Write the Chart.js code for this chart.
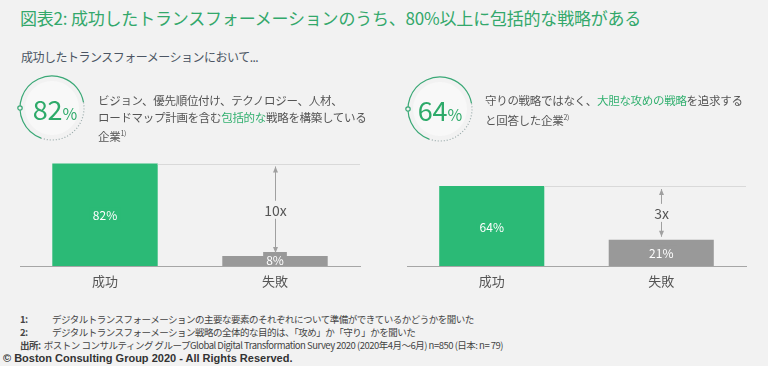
<!DOCTYPE html>
<html>
<head>
<meta charset="utf-8">
<script src="https://cdn.jsdelivr.net/npm/chart.js@4.4.1/dist/chart.umd.min.js"></script>
<style>
    html, body { margin: 0; padding: 0; }
    body {
        width: 768px; height: 366px; overflow: hidden; position: relative;
        background: #f2f2f2;
        font-family: "Noto Sans CJK JP", "Noto Sans", sans-serif;
        color: #555;
    }
    .abs { position: absolute; white-space: nowrap; }
    #title { left: 20px; top: 5px; font-size: 17px; color: #33a86b; letter-spacing: -0.2px; }
    #subtitle { left: 21px; top: 48px; font-size: 12px; color: #4b5563; letter-spacing: -0.5px; }
    .ring { position: absolute; }
    .big { position: absolute; color: #2eaa6a; font-size: 27px; line-height: 1; text-align: center; width: 70px; }
    .big small { font-size: 16px; }
    .desc { font-size: 11.5px; line-height: 16.5px; color: #555; letter-spacing: -0.3px; }
    .desc em { font-style: normal; color: #33b070; }
    .desc sup { font-size: 7px; vertical-align: 5px; }
    .note { font-size: 9.5px; color: #444; letter-spacing: -0.5px; }
    #copy { left: 3px; top: 352px; font-family: "Liberation Sans", sans-serif; font-weight: bold; font-size: 11px; color: #333; }
    canvas.bars { position: absolute; }
</style>
</head>
<body>

<div id="title" class="abs">図表2: 成功したトランスフォーメーションのうち、80%以上に包括的な戦略がある</div>
<div id="subtitle" class="abs">成功したトランスフォーメーションにおいて...</div>

<canvas class="ring" id="ring-left" width="80" height="80" style="left:12px; top:68px;"></canvas>
<div class="big" style="left:20px; top:95px;">82<small>%</small></div>
<div class="abs desc" style="left:98px; top:92px;">ビジョン、優先順位付け、テクノロジー、人材、<br>ロードマップ計画を含む<em>包括的な</em>戦略を構築している<br>企業<sup>1)</sup></div>

<canvas class="ring" id="ring-right" width="80" height="80" style="left:400px; top:69px;"></canvas>
<div class="big" style="left:405px; top:96px;">64<small>%</small></div>
<div class="abs desc" style="left:485px; top:92px;">守りの戦略ではなく、<em>大胆な攻めの戦略</em>を追求する<br>と回答した企業<sup>2)</sup></div>

<canvas class="bars" id="chart-left" width="384" height="170" style="left:0; top:130px;"></canvas>
<canvas class="bars" id="chart-right" width="384" height="170" style="left:384px; top:130px;"></canvas>

<div class="abs note" style="left:20px; top:312px;"><b>1:</b></div>
<div class="abs note" style="left:52px; top:312px;">デジタルトランスフォーメーションの主要な要素のそれぞれについて準備ができているかどうかを聞いた</div>
<div class="abs note" style="left:20px; top:325px;"><b>2:</b></div>
<div class="abs note" style="left:52px; top:325px;">デジタルトランスフォーメーション戦略の全体的な目的は、「攻め」か「守り」かを聞いた</div>
<div class="abs note" style="left:20px; top:338px;"><b>出所:</b>&nbsp; ボストン コンサルティング グループGlobal Digital Transformation Survey 2020 (2020年4月～6月) n=850 (日本: n= 79)</div>
<div id="copy" class="abs">© Boston Consulting Group 2020 - All Rights Reserved.</div>

<script>
// Data.
const categories = ["成功", "失敗"];
const leftValues = [82, 8];
const rightValues = [64, 21];
const ratioLabels = ["10x", "3x"];

const green = "#2bba76";
const gray = "#999999";
const bg = "#f2f2f2";


/**
 * Draws the decorative ring around the big percentage.
 */
function drawRing(id) {
    const ctx = document.getElementById(id).getContext("2d");
    const cx = 40, cy = 40, r = 32;
    const deg = Math.PI / 180;

    ctx.fillStyle = "#f8f8f8";
    ctx.beginPath();
    ctx.arc(cx, cy, 27, 0, 2 * Math.PI);
    ctx.fill();

    ctx.strokeStyle = "#3aa876";
    ctx.lineWidth = 1.2;
    ctx.beginPath();
    ctx.arc(cx, cy, r, 110 * deg, 350 * deg);
    ctx.stroke();

    ctx.strokeStyle = "#9aa";
    ctx.setLineDash([1, 2]);
    ctx.beginPath();
    ctx.arc(cx, cy, r, 350 * deg, 470 * deg);
    ctx.stroke();
    ctx.setLineDash([]);

    ctx.fillStyle = bg;
    ctx.strokeStyle = "#3aa876";
    ctx.beginPath();
    ctx.arc(cx - r, cy, 2.2, 0, 2 * Math.PI);
    ctx.fill();
    ctx.stroke();
}


// Value labels, reference line and the arrow with the ratio label.
const barDecor = {
    id: "barDecor",
    afterDatasetsDraw(chart, args, opts) {
        const ctx = chart.ctx;
        const meta = chart.getDatasetMeta(0);
        const values = chart.data.datasets[0].data;
        const area = chart.chartArea;
        const [good, bad] = meta.data;

        // reference line at the top of the first bar
        ctx.save();
        ctx.strokeStyle = "#d9d9d9";
        ctx.lineWidth = 1;
        ctx.beginPath();
        ctx.moveTo(good.x + good.width / 2, Math.round(good.y) + 0.5);
        ctx.lineTo(area.right, Math.round(good.y) + 0.5);
        ctx.stroke();

        // value labels
        ctx.font = "12px 'Noto Sans CJK JP'";
        ctx.textAlign = "center";
        ctx.textBaseline = "middle";
        meta.data.forEach((bar, i) => {
            const text = values[i] + "%";
            let cy = (bar.y + bar.base) / 2;
            cy = Math.min(cy, bar.base - 7);
            const w = ctx.measureText(text).width + 6;
            ctx.fillStyle = chart.data.datasets[0].backgroundColor[i];
            ctx.fillRect(bar.x - w / 2, cy - 7, w, 14);
            ctx.fillStyle = "#ffffff";
            ctx.fillText(text, bar.x, cy + 1);
        });

        // arrow between the two bar tops
        const x = Math.round(bad.x) + 0.5;
        const y1 = good.y + 3, y2 = bad.y - 3;
        ctx.strokeStyle = "#a0a0a0";
        ctx.fillStyle = "#a0a0a0";
        ctx.beginPath();
        ctx.moveTo(x, y1);
        ctx.lineTo(x, y2);
        ctx.stroke();
        ctx.beginPath();
        ctx.moveTo(x, y1); ctx.lineTo(x - 2.5, y1 + 6); ctx.lineTo(x + 2.5, y1 + 6); ctx.closePath();
        ctx.moveTo(x, y2); ctx.lineTo(x - 2.5, y2 - 6); ctx.lineTo(x + 2.5, y2 - 6); ctx.closePath();
        ctx.fill();

        const my = (y1 + y2) / 2;
        ctx.font = "14px 'Noto Sans CJK JP'";
        const tw = ctx.measureText(opts.ratio).width + 6;
        ctx.fillStyle = bg;
        ctx.fillRect(x - tw / 2, my - 9, tw, 18);
        ctx.fillStyle = "#555";
        ctx.fillText(opts.ratio, x, my + 1);
        ctx.restore();
    }
};


/**
 * Creates one of the two bar charts.
 */
function createBars(canvasId, values, ratio, padLeft, padRight) {
    new Chart(document.getElementById(canvasId), {
        type: "bar",
        data: {
            labels: categories,
            datasets: [{
                data: values,
                backgroundColor: [green, gray],
                borderWidth: 0,
                barPercentage: 1,
                categoryPercentage: 0.62
            }]
        },
        options: {
            responsive: false,
            animation: false,
            layout: { padding: { top: 11, left: padLeft, right: padRight, bottom: 0 } },
            plugins: {
                legend: { display: false },
                tooltip: { enabled: false },
                barDecor: { ratio: ratio }
            },
            scales: {
                x: {
                    grid: { display: false, drawTicks: false },
                    border: { display: true, color: "#a6a6a6", width: 1 },
                    ticks: { color: "#555", font: { size: 13, family: "'Noto Sans CJK JP'" }, padding: 7 },
                    afterFit: (scale) => { scale.height = 34; }
                },
                y: { display: false, min: 0, max: 100 }
            }
        },
        plugins: [barDecor]
    });
}


document.addEventListener("DOMContentLoaded", () => {
    drawRing("ring-left");
    drawRing("ring-right");
    createBars("chart-left", leftValues, ratioLabels[0], 20, 24);
    createBars("chart-right", rightValues, ratioLabels[1], 23, 22);
});
</script>
</body>
</html>
